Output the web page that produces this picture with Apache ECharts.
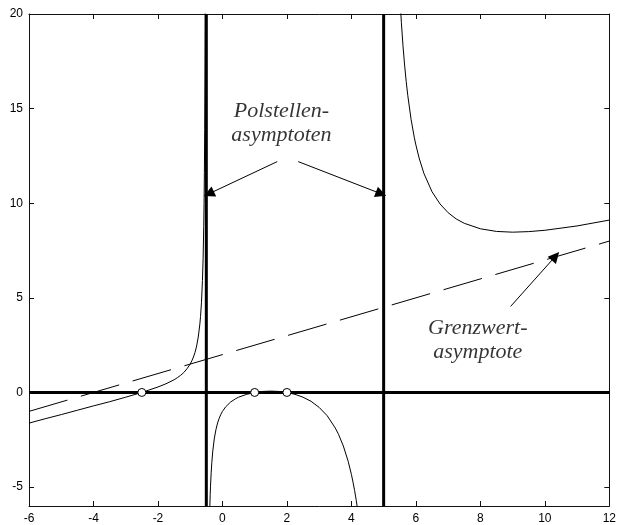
<!DOCTYPE html>
<html>
<head>
<meta charset="utf-8">
<script src="https://cdn.jsdelivr.net/npm/echarts@6/dist/echarts.min.js"></script>
<style>
html,body{margin:0;padding:0;background:#fff;}
#c{width:619px;height:525px;}
</style>
</head>
<body>
<div id="c"></div>
<script>
// Axis ranges and tick labels
const xMin = -6, xMax = 12, xStep = 2;
const yMin = -6, yMax = 20;
const yTickValues = [-5, 0, 5, 10, 15, 20];

// Curve branches (x, y)
const branchLeft = [[-6,-1.62],[-5.5,-1.39],[-5,-1.17],[-4.5,-0.94],[-4,-0.71],[-3.5,-0.49],[-3,-0.25],[-2.5,0],[-2,0.29],[-1.75,0.46],[-1.5,0.67],[-1.4,0.78],[-1.3,0.90],[-1.2,1.05],[-1.1,1.25],[-1,1.5],[-0.95,1.67],[-0.9,1.87],[-0.85,2.12],[-0.8,2.46],[-0.75,2.93],[-0.7,3.62],[-0.68,4.01],[-0.65,4.77],[-0.62,5.92],[-0.6,7.06],[-0.58,8.77],[-0.57,9.99],[-0.56,11.61],[-0.55,13.89],[-0.54,17.3],[-0.533,20.9]];
const branchMiddle = [[-0.46,-16.77],[-0.44,-11.09],[-0.42,-8.24],[-0.4,-6.53],[-0.38,-5.39],[-0.37,-4.95],[-0.35,-4.25],[-0.33,-3.71],[-0.3,-3.1],[-0.25,-2.41],[-0.2,-1.95],[-0.15,-1.61],[-0.1,-1.36],[-0.05,-1.16],[0,-1],[0.1,-0.76],[0.25,-0.51],[0.4,-0.34],[0.5,-0.25],[0.75,-0.1],[1,0],[1.25,0.054],[1.5,0.07],[1.75,0.054],[2,0],[2.25,-0.1],[2.5,-0.25],[2.75,-0.47],[3,-0.79],[3.25,-1.23],[3.5,-1.88],[3.6,-2.21],[3.75,-2.83],[3.9,-3.64],[4,-4.33],[4.05,-4.74],[4.1,-5.19],[4.15,-5.7],[4.2,-6.27],[4.3,-7.68]];
const branchRight = [[5.4,25.04],[5.45,22.79],[5.5,21.0],[5.55,19.54],[5.6,18.32],[5.65,17.3],[5.7,16.43],[5.75,15.68],[5.85,14.44],[5.95,13.48],[6,13.08],[6.1,12.39],[6.25,11.57],[6.5,10.61],[6.75,9.96],[7,9.5],[7.25,9.17],[7.5,8.94],[8,8.65],[8.5,8.51],[9,8.47],[9.5,8.5],[10,8.57],[11,8.8],[12,9.11]];

// Oblique (limit) asymptote
const limitAsymptote = [[-6,-1],[12,8]];
// Pole asymptotes and x-axis line
const poleLeft = [[-0.5,-6],[-0.5,20]];
const poleRight = [[5,-6],[5,20]];
const zeroLine = [[-6,0],[12,0]];
// Zeros
const zeros = [[-2.5,0],[1,0],[2,0]];

// Annotation arrows and texts
const arrows = [
  [[1.70,12.2],[-0.42,10.5]],
  [[2.35,12.2],[4.92,10.5]],
  [[8.94,4.55],[10.33,7.2]]
];
const labels = [
  {value:[1.83,14.25], text:'Polstellen-\nasymptoten'},
  {value:[7.92,2.75], text:'Grenzwert-\nasymptote'}
];

const axisLineStyle = {color:'#111', width:1};
const chart = echarts.init(document.getElementById('c'), null, {renderer:'canvas'});
const thick = (d) => ({type:'line', data:d, symbol:'none', lineStyle:{color:'#000', width:3}, z:3});
const curve = (d) => ({type:'line', data:d, symbol:'none', smooth:false, lineStyle:{color:'#000', width:1}, z:4});

chart.setOption({
  animation:false,
  backgroundColor:'#fff',
  grid:{left:29, right:9, top:14, bottom:18},
  xAxis:[
    {type:'value', min:xMin, max:xMax, interval:xStep, position:'bottom',
     axisLine:{show:true, onZero:false, lineStyle:axisLineStyle}, axisTick:{show:true, inside:true, length:5, lineStyle:axisLineStyle},
     axisLabel:{color:'#000', fontFamily:'Liberation Sans, Arial', fontSize:12, margin:7},
     splitLine:{show:false}},
    {type:'value', min:xMin, max:xMax, interval:xStep, position:'top',
     axisLine:{show:true, onZero:false, lineStyle:axisLineStyle}, axisTick:{show:true, inside:true, length:5, lineStyle:axisLineStyle},
     axisLabel:{show:false}, splitLine:{show:false}}
  ],
  yAxis:[
    {type:'value', min:yMin, max:yMax, position:'left',
     axisLine:{show:true, onZero:false, lineStyle:axisLineStyle},
     axisTick:{show:true, inside:true, length:5, lineStyle:axisLineStyle, customValues:yTickValues},
     axisLabel:{color:'#000', fontFamily:'Liberation Sans, Arial', fontSize:12, margin:6, customValues:yTickValues},
     splitLine:{show:false}},
    {type:'value', min:yMin, max:yMax, position:'right',
     axisLine:{show:true, onZero:false, lineStyle:axisLineStyle},
     axisTick:{show:true, inside:true, length:5, lineStyle:axisLineStyle, customValues:yTickValues},
     axisLabel:{show:false, customValues:yTickValues}, splitLine:{show:false}}
  ],
  series:[
    {type:'line', data:limitAsymptote, symbol:'none', lineStyle:{color:'#000', width:1, type:[40,14]}, z:2},
    thick(poleLeft), thick(poleRight), thick(zeroLine),
    curve(branchLeft), curve(branchMiddle), curve(branchRight),
    {type:'scatter', data:zeros, symbol:'circle', symbolSize:8,
     itemStyle:{color:'#fff', opacity:1, borderColor:'#000', borderWidth:1}, z:6},
    {type:'lines', coordinateSystem:'cartesian2d', z:7,
     data:arrows.map(c => ({coords:c})),
     symbol:['none','triangle'], symbolSize:[7,11],
     lineStyle:{color:'#000', width:1, opacity:1}},
    {type:'scatter', symbolSize:0, z:8,
     data:labels.map(l => ({value:l.value, name:l.text})),
     label:{show:true, position:'inside', formatter:p => p.name, color:'#000',
       fontFamily:'Liberation Serif, Times New Roman', fontStyle:'italic', fontSize:22, lineHeight:24, align:'center', verticalAlign:'middle'}}
  ]
});
</script>
</body>
</html>
